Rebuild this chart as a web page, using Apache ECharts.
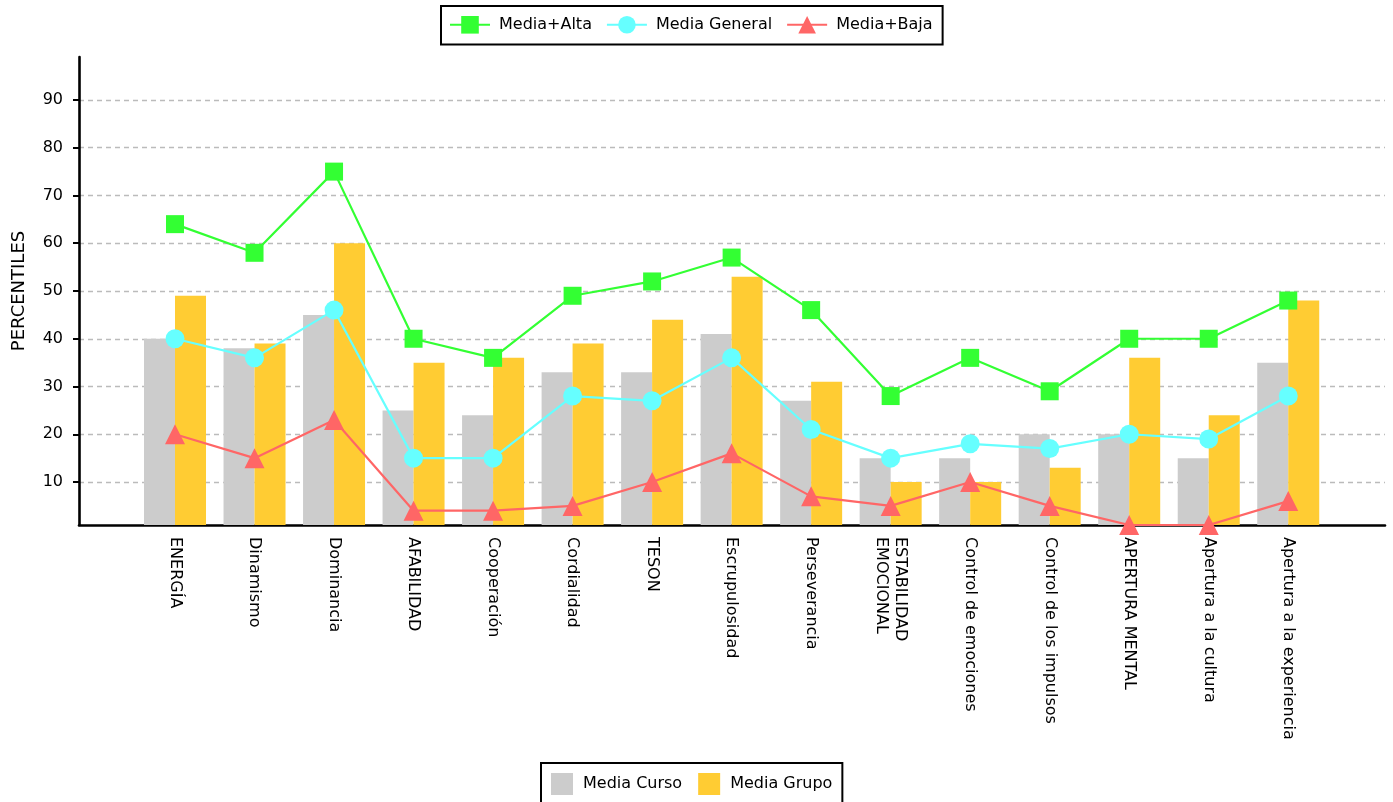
<!DOCTYPE html>
<html>
<head>
<meta charset="utf-8">
<script src="https://cdn.jsdelivr.net/npm/echarts@6/dist/echarts.min.js"></script>
<style>
html,body{margin:0;padding:0;background:#fff;}
#chart{width:1393px;height:802px;}
</style>
</head>
<body>
<div id="chart"></div>
<script>
const categories = ['ENERGÍA','Dinamismo','Dominancia','AFABILIDAD','Cooperación','Cordialidad','TESON','Escrupulosidad','Perseverancia','ESTABILIDAD\nEMOCIONAL','Control de emociones','Control de los impulsos','APERTURA MENTAL','Apertura a la cultura','Apertura a la experiencia'];
const mediaCurso   = [40, 38, 45, 25, 24, 33, 33, 41, 27, 15, 15, 20, 20, 15, 35];
const mediaGrupo   = [49, 39, 60, 35, 36, 39, 44, 53, 31, 10, 10, 13, 36, 24, 48];
const mediaAlta    = [64, 58, 75, 40, 36, 49, 52, 57, 46, 28, 36, 29, 40, 40, 48];
const mediaGeneral = [40, 36, 46, 15, 15, 28, 27, 36, 21, 15, 18, 17, 20, 19, 28];
const mediaBaja    = [20, 15, 23, 4, 4, 5, 10, 16, 7, 5, 10, 5, 1, 1, 6];
const yTicks = [10, 20, 30, 40, 50, 60, 70, 80, 90];

const FONT = 'DejaVu Sans';
const FS = 16;
const chart = echarts.init(document.getElementById('chart'), null, {renderer: 'canvas'});

const lineSeries = (name, data, color, symbol, size) => ({
  name, type: 'line', data, xAxisIndex: 1, yAxisIndex: 1,
  symbol, symbolSize: size, showSymbol: true, z: 5,
  itemStyle: {color, opacity: 1},
  lineStyle: {color, width: 2.2},
  emphasis: {disabled: true},
  animation: false
});

chart.setOption({
  animation: false,
  textStyle: {fontFamily: FONT},
  grid: [
    {left: 79, right: 8, top: 57, bottom: 277, containLabel: false},
    {left: 135.25, right: 65, top: 57, bottom: 277, containLabel: false}
  ],
  legend: [
    {
      data: ['Media+Alta', 'Media General', 'Media+Baja'],
      top: 6, left: 441,
      orient: 'horizontal',
      borderColor: '#000', borderWidth: 2,
      padding: [10, 10, 11, 8],
      itemWidth: 40, itemHeight: 22, itemGap: 14,
      textStyle: {fontFamily: FONT, fontSize: FS, color: '#000', padding: [0, 0, 0, 4]}
    },
    {
      data: ['Media Curso', 'Media Grupo'],
      top: 763, left: 541,
      borderColor: '#000', borderWidth: 2,
      padding: [10, 10, 12, 10],
      icon: 'rect',
      itemWidth: 22, itemHeight: 22, itemGap: 16,
      textStyle: {fontFamily: FONT, fontSize: FS, color: '#000', padding: [0, 0, 0, 5]}
    }
  ],
  xAxis: [
    {
      type: 'value', gridIndex: 0, min: 0, max: 1,
      axisLine: {show: true, onZero: false, lineStyle: {color: '#000', width: 2.6}},
      axisTick: {show: false}, axisLabel: {show: false}, splitLine: {show: false}
    },
    {
      type: 'category', gridIndex: 1, data: categories, boundaryGap: true,
      axisLine: {show: false}, axisTick: {show: false}, splitLine: {show: false},
      axisLabel: {
        interval: 0, rotate: -90, margin: 12,
        fontFamily: FONT, fontSize: FS, color: '#000', lineHeight: 19
      }
    }
  ],
  yAxis: [
    {
      type: 'value', gridIndex: 0, min: 1, max: 99,
      name: 'PERCENTILES', nameLocation: 'middle', nameRotate: 90, nameGap: 51,
      nameTextStyle: {fontFamily: FONT, fontSize: 18, color: '#000'},
      axisLine: {show: true, onZero: false, lineStyle: {color: '#000', width: 2.6}},
      axisTick: {show: true, customValues: yTicks, length: 6, lineStyle: {color: '#000', width: 2}},
      axisLabel: {customValues: yTicks, margin: 16, fontFamily: FONT, fontSize: FS, color: '#000'},
      splitLine: {show: true, lineStyle: {color: '#bbbbbb', width: 1.3, type: [5, 4]}}
    },
    {
      type: 'value', gridIndex: 1, min: 1, max: 99, show: false,
      splitLine: {show: false}
    }
  ],
  series: [
    {
      name: 'Media Curso', type: 'bar', data: mediaCurso, xAxisIndex: 1, yAxisIndex: 1,
      barWidth: 31, barGap: '0%', itemStyle: {color: '#cccccc'}, z: 2,
      emphasis: {disabled: true}
    },
    {
      name: 'Media Grupo', type: 'bar', data: mediaGrupo, xAxisIndex: 1, yAxisIndex: 1,
      barWidth: 31, barGap: '0%', itemStyle: {color: '#ffcc33'}, z: 2,
      emphasis: {disabled: true}
    },
    lineSeries('Media+Alta', mediaAlta, '#33ff33', 'rect', 18),
    lineSeries('Media General', mediaGeneral, '#66ffff', 'circle', 19),
    lineSeries('Media+Baja', mediaBaja, '#ff6666', 'triangle', 20)
  ]
});
</script>
</body>
</html>
